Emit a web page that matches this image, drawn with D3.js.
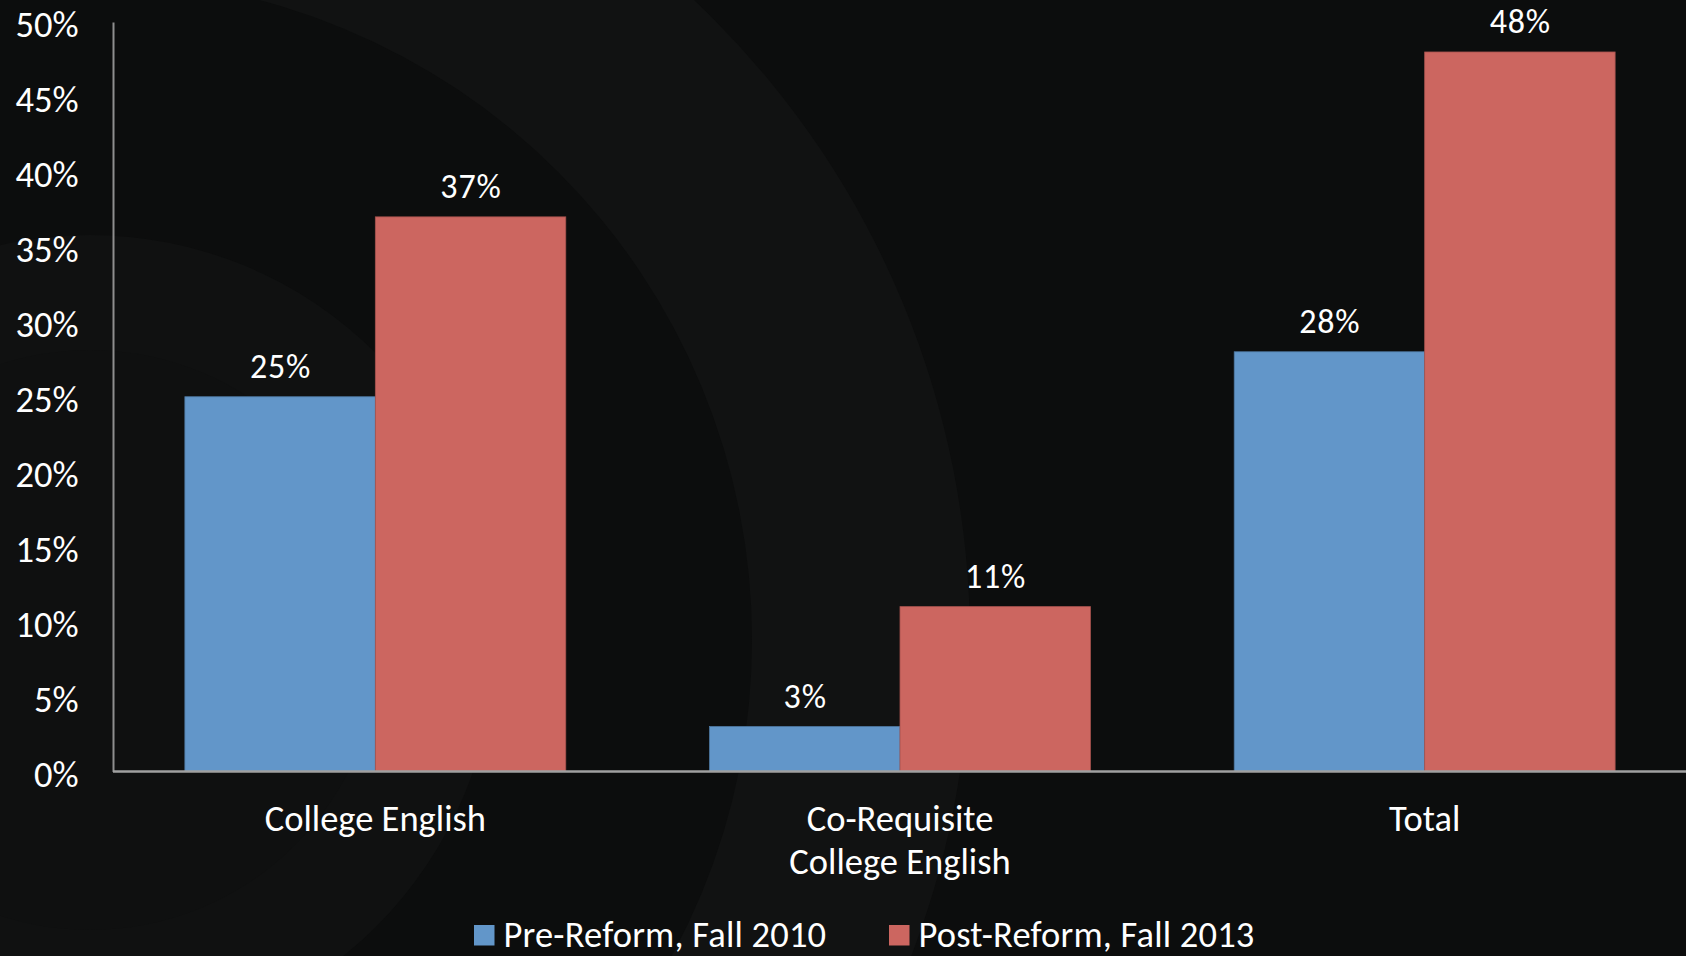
<!DOCTYPE html>
<html>
<head>
<meta charset="utf-8">
<script src="https://cdn.jsdelivr.net/npm/d3@7"></script>
<style>
  html, body { margin: 0; padding: 0; background: #0c0d0d; }
  svg { display: block; }
  text { font-family: Carlito, Lato, "Open Sans", sans-serif; fill: #ffffff; }
</style>
</head>
<body>
<svg id="chart" width="1686" height="956"></svg>
<script>
// Share of students completing a college-level English course
const categories = ["College English", "Co-Requisite\nCollege English", "Total"];
const seriesNames = ["Pre-Reform, Fall 2010", "Post-Reform, Fall 2013"];
const preReform = [0.25, 0.03, 0.28];
const postReform = [0.37, 0.11, 0.48];
const seriesColors = ["#6296c9", "#cc6660"];
const yTicks = [0, 0.05, 0.10, 0.15, 0.20, 0.25, 0.30, 0.35, 0.40, 0.45, 0.50];

const W = 1686, H = 956;
const FONT = "36.5px";
const svg = d3.select("#chart");

// Slide backdrop: faint concentric rings
const bg = svg.append("g");
bg.append("rect").attr("width", W).attr("height", H).attr("fill", "#0c0d0d");
const rings = [
  { r: 880, fill: "#111212" },
  { r: 662, fill: "#0c0d0d" },
  { r: 405, fill: "#101111" },
  { r: 290, fill: "#0f1010" }
];
bg.selectAll("circle").data(rings).join("circle")
  .attr("cx", 90).attr("cy", 640)
  .attr("r", d => d.r).attr("fill", d => d.fill);

const plot = { left: 113, right: 1687, top: 22, bottom: 771.5 };

const x0 = d3.scaleBand()
  .domain(categories)
  .range([plot.left, plot.right])
  .paddingInner(0.274)
  .paddingOuter(0.137);

const x1 = d3.scaleBand()
  .domain(seriesNames)
  .range([0, x0.bandwidth()]);

const y = d3.scaleLinear().domain([0, 0.5]).range([plot.bottom, plot.top]);

const rows = categories.map((c, i) => ({
  category: c,
  values: [
    { series: seriesNames[0], value: preReform[i], color: seriesColors[0] },
    { series: seriesNames[1], value: postReform[i], color: seriesColors[1] }
  ]
}));

// Bars
const groups = svg.append("g").selectAll("g").data(rows).join("g")
  .attr("transform", d => `translate(${x0(d.category)},0)`);

groups.selectAll("rect").data(d => d.values).join("rect")
  .attr("x", d => x1(d.series))
  .attr("y", d => y(d.value))
  .attr("width", x1.bandwidth())
  .attr("height", d => y(0) - y(d.value))
  .attr("fill", d => d.color)
  .attr("stroke", d => d3.color(d.color).darker(0.6))
  .attr("stroke-width", 0.8);

// Value labels
groups.selectAll("text.value").data(d => d.values).join("text")
  .attr("class", "value")
  .attr("x", d => x1(d.series) + x1.bandwidth() / 2 + 0.4)
  .attr("y", d => y(d.value) - 18.5)
  .attr("text-anchor", "middle")
  .style("font-size", "34px")
  .style("letter-spacing", "0.8px")
  .text(d => d3.format(".0%")(d.value));

// Y axis
const yAxis = svg.append("g")
  .attr("transform", `translate(${plot.left},0)`)
  .call(d3.axisLeft(y).tickValues(yTicks).tickFormat(d3.format(".0%"))
    .tickSize(0).tickSizeOuter(0).tickPadding(34.5));
yAxis.attr("font-family", null).attr("font-size", null);
yAxis.select(".domain").attr("stroke", "#8e8e8e").attr("stroke-width", 2);
yAxis.selectAll(".tick text")
  .attr("dy", "0.4em")
  .style("font-size", FONT)
  .attr("fill", "#ffffff");

// X axis (category labels, wrapped on line breaks)
const xAxis = svg.append("g")
  .attr("transform", `translate(0,${plot.bottom})`)
  .call(d3.axisBottom(x0).tickSize(0).tickSizeOuter(0).tickPadding(0));
xAxis.attr("font-family", null).attr("font-size", null);
xAxis.select(".domain")
  .attr("d", `M${plot.left},0H${W}`)
  .attr("stroke", "#a0a0a0").attr("stroke-width", 2.5);
xAxis.selectAll(".tick text")
  .attr("fill", "#ffffff")
  .style("font-size", FONT)
  .attr("y", 0).attr("dy", null)
  .each(function (d) {
    const t = d3.select(this);
    t.text(null);
    d.split("\n").forEach((line, i) => {
      t.append("tspan").attr("x", 0).attr("y", 59.5 + i * 43).text(line);
    });
  });

// Legend
const legendItems = [
  { name: seriesNames[0], color: seriesColors[0], x: 474 },
  { name: seriesNames[1], color: seriesColors[1], x: 889 }
];
const legend = svg.append("g").selectAll("g").data(legendItems).join("g")
  .attr("transform", d => `translate(${d.x},0)`);
legend.append("rect")
  .attr("x", 0).attr("y", 925).attr("width", 20.5).attr("height", 20.5)
  .attr("fill", d => d.color);
legend.append("text")
  .attr("x", 29.5).attr("y", 946.5)
  .style("font-size", FONT)
  .style("letter-spacing", "0.2px")
  .text(d => d.name);
</script>
</body>
</html>
